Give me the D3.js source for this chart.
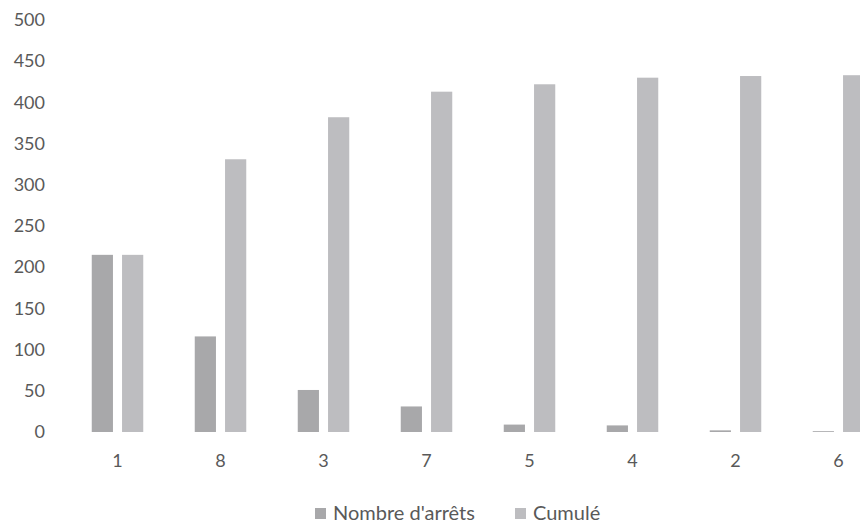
<!DOCTYPE html>
<html>
<head>
<meta charset="utf-8">
<script src="https://cdn.jsdelivr.net/npm/d3@7"></script>
<style>
  html, body { margin: 0; padding: 0; background: #fff; }
  svg { display: block; }
  text { font-family: Lato, "Open Sans", sans-serif; fill: #595959; }
</style>
</head>
<body>
<svg id="chart" width="860" height="529"></svg>
<script>
const categories = ["1", "8", "3", "7", "5", "4", "2", "6"];
const nombreArrets = [215, 116, 51, 31, 9, 8, 2, 1];
const cumule = [215, 331, 382, 413, 422, 430, 432, 433];
const yTicks = [0, 50, 100, 150, 200, 250, 300, 350, 400, 450, 500];
const seriesNames = ["Nombre d'arrêts", "Cumulé"];
const seriesColors = ["#a8a8aa", "#bdbdc0"];

const svg = d3.select("#chart");

const x = d3.scaleBand().domain(categories).range([66, 890])
  .paddingInner(0.5).paddingOuter(0.25);
const xInner = d3.scaleBand().domain(seriesNames).range([0, x.bandwidth()])
  .paddingInner(0.3).paddingOuter(0);
const y = d3.scaleLinear().domain([0, 500]).range([432, 20]);

const seriesData = [nombreArrets, cumule];

// Y axis labels
const yAxis = d3.axisLeft(y).tickValues(yTicks).tickSize(0).tickPadding(0);
const gy = svg.append("g").attr("transform", "translate(45,0)").call(yAxis);
gy.select(".domain").remove();
gy.selectAll("text").style("font-size", "18px").attr("fill", "#595959")
  .style("font-family", "Lato, 'Open Sans', sans-serif");

// Bars
const groups = svg.append("g").selectAll("g")
  .data(categories).join("g")
  .attr("transform", d => `translate(${x(d)},0)`);

groups.selectAll("rect")
  .data((d, i) => seriesNames.map((s, k) => ({ s, v: seriesData[k][i], k })))
  .join("rect")
  .attr("x", d => xInner(d.s))
  .attr("width", xInner.bandwidth())
  .attr("y", d => y(d.v))
  .attr("height", d => y(0) - y(d.v))
  .attr("fill", d => seriesColors[d.k]);

// X axis labels
const xAxis = d3.axisBottom(x).tickSize(0).tickPadding(0);
const gx = svg.append("g").attr("transform", "translate(0,454)").call(xAxis);
gx.select(".domain").remove();
gx.selectAll("text").style("font-size", "18px").attr("fill", "#595959")
  .style("font-family", "Lato, 'Open Sans', sans-serif");

// Legend
const legend = svg.append("g");
const legendX = [315, 515];
seriesNames.forEach((s, k) => {
  legend.append("rect").attr("x", legendX[k]).attr("y", 508)
    .attr("width", 11).attr("height", 11).attr("fill", seriesColors[k]);
  legend.append("text").attr("x", legendX[k] + 18).attr("y", 520)
    .style("font-size", "20px").text(s);
});
</script>
</body>
</html>
